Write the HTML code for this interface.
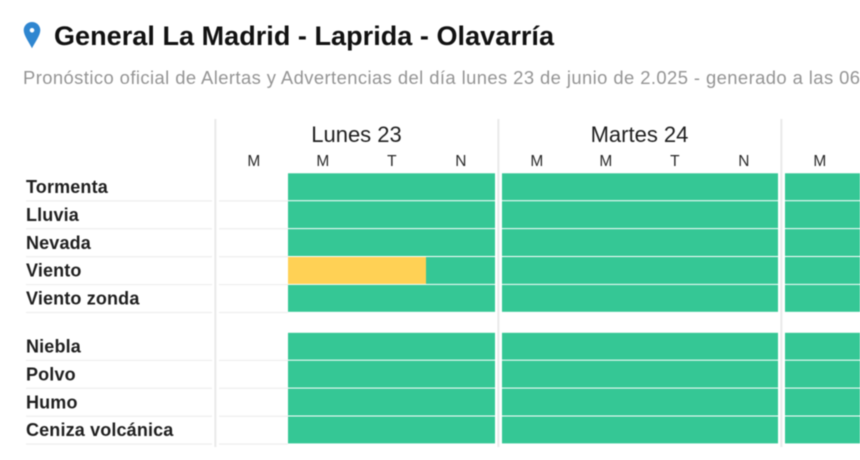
<!DOCTYPE html>
<html lang="es">
<head>
<meta charset="utf-8">
<title>General La Madrid - Laprida - Olavarría</title>
<style>
  html, body { margin: 0; padding: 0; background: #fff; width: 860px; height: 460px; overflow: hidden; }
  svg { display: block; filter: blur(0.65px); font-family: "Liberation Sans", sans-serif; }
</style>
</head>
<body>
<svg id="chart" width="860" height="460" viewBox="0 0 860 460" xmlns="http://www.w3.org/2000/svg">
  <rect width="860" height="460" fill="#fff"/>
  <path fill-rule="evenodd" fill="#2f86d0" d="M32 22c-4.600 0-8.300 3.600-8.300 8.200 0 5.200 5.600 12.500 8.300 18 2.700-5.500 8.300-12.800 8.300-18 0-4.600-3.700-8.200-8.300-8.200zm0 6a2.300 2.300 0 1 1 0 4.600 2.300 2.300 0 0 1 0-4.600z"/>
  <text x="54" y="45" font-size="27" font-weight="700" fill="#111" textLength="500">General La Madrid - Laprida - Olavarría</text>
  <text x="23" y="84" font-size="18.400" fill="#949494" textLength="837">Pronóstico oficial de Alertas y Advertencias del día lunes 23 de junio de 2.025 - generado a las 06</text>
  <g id="grid"></g>
</svg>
<script>
// Data
const days = ['Lunes 23', 'Martes 24', 'Miércoles 25'];
const periods = ['M', 'M', 'T', 'N'];
const groupOneRows = ['Tormenta', 'Lluvia', 'Nevada', 'Viento', 'Viento zonda'];
const groupTwoRows = ['Niebla', 'Polvo', 'Humo', 'Ceniza volcánica'];
// Level per period (three days x four periods): 0 no data, 1 green, 2 yellow
const tormenta = [0,1,1,1, 1,1,1,1, 1,1,1,1];
const lluvia   = [0,1,1,1, 1,1,1,1, 1,1,1,1];
const nevada   = [0,1,1,1, 1,1,1,1, 1,1,1,1];
const viento   = [0,2,2,1, 1,1,1,1, 1,1,1,1];
const zonda    = [0,1,1,1, 1,1,1,1, 1,1,1,1];
const niebla   = [0,1,1,1, 1,1,1,1, 1,1,1,1];
const polvo    = [0,1,1,1, 1,1,1,1, 1,1,1,1];
const humo     = [0,1,1,1, 1,1,1,1, 1,1,1,1];
const ceniza   = [0,1,1,1, 1,1,1,1, 1,1,1,1];
const groupOneLevels = [tormenta, lluvia, nevada, viento, zonda];
const groupTwoLevels = [niebla, polvo, humo, ceniza];

const NS = 'http://www.w3.org/2000/svg';
const grid = document.getElementById('grid');
const levelColor = { 1: '#35c795', 2: '#ffd155' };
const DAY_X0 = 219, DAY_STEP = 283, PERIOD_W = 69, ROW_STEP = 27.9;
const dayX = d => DAY_X0 + DAY_STEP * d;
const periodX = (d, p) => dayX(d) + PERIOD_W * p;
const groupTop = g => (g === 0 ? 173.3 : 332.8);
const rowY = (g, r) => groupTop(g) + ROW_STEP * r;

function mk(tag, attrs, text) {
  const el = document.createElementNS(NS, tag);
  for (const k in attrs) el.setAttribute(k, attrs[k]);
  if (text !== undefined) el.textContent = text;
  grid.appendChild(el);
  return el;
}

// Vertical day dividers
[0, 1, 2].forEach(d => {
  const el = mk('rect', { x: dayX(d) - 4.6, y: 119, width: 2, height: 328, fill: '#e9e9e9' });
  
  
});

// Day and period headers
days.forEach((day, d) => {
  const dayLabel = mk('text', { x: dayX(d) + PERIOD_W * 2 - 0.5, y: 142, 'font-size': 22, fill: '#1f1f1f', 'text-anchor': 'middle' }, day);
  
  
  periods.forEach((p, i) => {
    const label = mk('text', { x: periodX(d, i) + PERIOD_W / 2 + 0.3, y: 166, 'font-size': 15.500, fill: '#2a2a2a', 'text-anchor': 'middle' }, p);
    
    
  });
});

// Rows
function drawGroup(g, names, levels) {
  names.forEach((name, r) => {
    const y = rowY(g, r);
    const label = mk('text', { x: 26, y: y + 19.7, 'font-size': 18, 'font-weight': 700, 'letter-spacing': 0.15, fill: '#1f1f1f' }, name);
    
    

    const sepLabel = mk('rect', { x: 26, y: y + ROW_STEP - 0.9, width: 186, height: 1.2, fill: '#eeeeee' });
    
    

    const sepEmpty = mk('rect', { x: 219, y: y + ROW_STEP - 0.9, width: 69, height: 1.2, fill: '#eeeeee' });
    
    

    levels[r].forEach((level, i) => {
      if (!level) return;
      const d = Math.floor(i / periods.length);
      const p = i % periods.length;
      const cell = mk('rect', { x: periodX(d, p), y: y, width: PERIOD_W, height: ROW_STEP - 1, fill: levelColor[level] });
      
      
    });
  });
}
drawGroup(0, groupOneRows, groupOneLevels);
drawGroup(1, groupTwoRows, groupTwoLevels);
</script>
</body>
</html>
